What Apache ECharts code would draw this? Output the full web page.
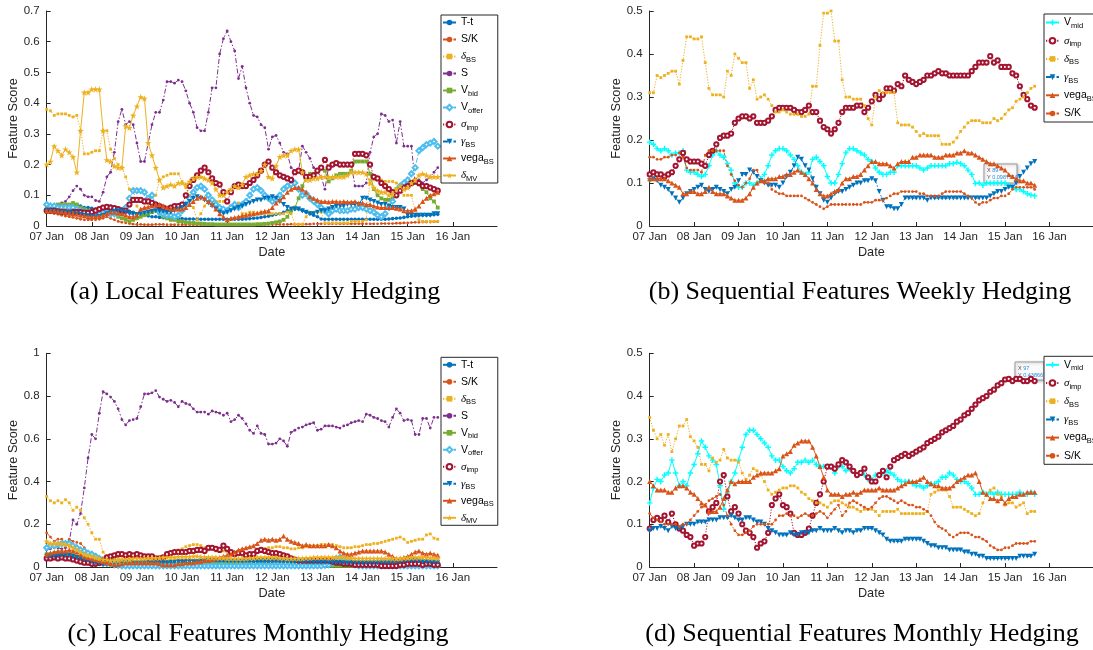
<!DOCTYPE html>
<html>
<head>
<meta charset="utf-8">
<script src="https://cdn.jsdelivr.net/npm/echarts@6/dist/echarts.min.js"></script>
<style>
  html, body { margin: 0; padding: 0; background: #fff; }
  #chart { width: 1093px; height: 650px; }
</style>
</head>
<body>
<div id="chart"></div>
<script>
// ---- axis labels ----
const dayLabels = ['07 Jan','08 Jan','09 Jan','10 Jan','11 Jan','12 Jan','13 Jan','14 Jan','15 Jan','16 Jan'];
const STEP_DAYS = 2 / 24;   // one score every two hours, starting 07 Jan 00:00

// ---- (a) local features, weekly hedging ----
const wkLoc_Tt = [0.05,0.05,0.052,0.055,0.057,0.06,0.063,0.066,0.07,
 0.065,0.06,0.06,0.058,0.055,0.052,0.05,0.055,
 0.065,0.062,0.058,0.055,0.05,0.048,0.045,0.04,
 0.038,0.035,0.033,0.03,0.03,0.028,0.027,0.026,
 0.025,0.025,0.024,0.024,0.023,0.023,0.023,0.022,
 0.022,0.022,0.022,0.022,0.022,0.022,0.022,0.022,
 0.022,0.022,0.022,0.022,0.023,0.024,0.025,0.026,
 0.028,0.03,0.032,0.035,0.038,0.04,0.045,0.05,
 0.052,0.055,0.055,0.05,0.045,0.04,0.035,0.03,
 0.023,0.022,0.022,0.022,0.022,0.022,0.022,0.022,
 0.022,0.022,0.022,0.022,0.022,0.022,0.022,0.022,
 0.022,0.022,0.023,0.024,0.025,0.026,0.028,0.03,
 0.032,0.033,0.034,0.035,0.035,0.036,0.037,0.038];
const wkLoc_SK = [0.045,0.043,0.04,0.038,0.035,0.032,0.03,0.028,0.025,
 0.022,0.02,0.02,0.02,0.02,0.022,0.025,0.03,
 0.025,0.02,0.015,0.012,0.01,0.008,0.006,0.005,
 0.005,0.004,0.004,0.004,0.005,0.005,0.005,0.004,
 0.004,0.004,0.004,0.004,0.004,0.004,0.004,0.004,
 0.004,0.004,0.005,0.005,0.005,0.005,0.004,0.004,
 0.004,0.004,0.004,0.004,0.004,0.004,0.004,0.004,
 0.005,0.005,0.005,0.005,0.005,0.005,0.005,0.005,
 0.006,0.006,0.006,0.006,0.006,0.006,0.007,0.007,
 0.007,0.007,0.007,0.007,0.007,0.007,0.007,0.007,
 0.007,0.007,0.007,0.007,0.007,0.007,0.007,0.007,
 0.008,0.008,0.008,0.008,0.009,0.009,0.01,0.01,
 0.011,0.012,0.012,0.013,0.013,0.013,0.014,0.014];
const wkLoc_dBS = [0.38,0.375,0.36,0.365,0.365,0.365,0.36,0.355,0.36,
 0.31,0.235,0.235,0.24,0.245,0.245,0.31,0.31,
 0.25,0.22,0.20,0.19,0.16,0.12,0.12,0.065,
 0.04,0.04,0.08,0.10,0.10,0.15,0.16,0.165,
 0.17,0.17,0.17,0.145,0.125,0.10,0.06,0.02,
 0.04,0.065,0.08,0.08,0.08,0.08,0.08,0.08,
 0.065,0.07,0.075,0.04,0.04,0.045,0.045,0.04,
 0.045,0.04,0.04,0.04,0.04,0.04,0.04,0.045,
 0.04,0.005,0.005,0.005,0.03,0.045,0.045,0.045,
 0.045,0.01,0.01,0.01,0.01,0.01,0.01,0.01,
 0.015,0.015,0.015,0.015,0.02,0.15,0.15,0.15,
 0.15,0.145,0.145,0.145,0.14,0.135,0.10,0.10,
 0.10,0.05,0.02,0.015,0.015,0.015,0.015,0.015];
const wkLoc_S = [0.06,0.06,0.065,0.07,0.075,0.08,0.095,0.115,0.13,
 0.12,0.10,0.095,0.095,0.083,0.08,0.11,0.16,
 0.175,0.24,0.34,0.38,0.33,0.34,0.33,0.27,
 0.21,0.21,0.27,0.33,0.37,0.37,0.41,0.47,
 0.47,0.465,0.475,0.47,0.44,0.40,0.37,0.32,
 0.31,0.31,0.37,0.45,0.45,0.56,0.61,0.635,
 0.60,0.57,0.48,0.52,0.45,0.40,0.36,0.355,
 0.33,0.32,0.25,0.29,0.295,0.27,0.24,0.235,
 0.19,0.18,0.18,0.26,0.24,0.22,0.19,0.175,
 0.16,0.12,0.195,0.20,0.20,0.20,0.20,0.20,
 0.20,0.13,0.13,0.13,0.14,0.24,0.29,0.30,
 0.365,0.36,0.34,0.345,0.27,0.34,0.26,0.26,
 0.26,0.14,0.15,0.14,0.15,0.16,0.175,0.19];
const wkLoc_Vbid = [0.065,0.065,0.065,0.07,0.07,0.07,0.07,0.075,0.07,
 0.06,0.055,0.05,0.045,0.045,0.05,0.055,0.055,
 0.05,0.04,0.03,0.025,0.02,0.015,0.02,0.025,
 0.03,0.035,0.04,0.045,0.05,0.04,0.03,0.025,
 0.02,0.02,0.015,0.015,0.012,0.01,0.01,0.008,
 0.008,0.007,0.006,0.006,0.005,0.005,0.005,0.005,
 0.005,0.005,0.005,0.005,0.005,0.005,0.005,0.006,
 0.006,0.007,0.008,0.01,0.012,0.015,0.02,0.03,
 0.05,0.06,0.09,0.13,0.16,0.17,0.17,0.175,
 0.19,0.18,0.145,0.155,0.165,0.17,0.17,0.17,
 0.18,0.21,0.21,0.21,0.21,0.17,0.12,0.10,
 0.09,0.085,0.085,0.09,0.12,0.13,0.14,0.14,
 0.135,0.14,0.135,0.12,0.11,0.09,0.08,0.06];
const wkLoc_Voffer = [0.07,0.065,0.065,0.06,0.06,0.06,0.06,0.06,0.055,
 0.05,0.045,0.04,0.04,0.04,0.04,0.045,0.045,0.04,0.04,0.04,0.045,
 0.06,0.09,0.115,0.115,0.115,0.11,0.09,
 0.10,0.07,0.045,0.04,0.035,0.035,0.03,0.035,
 0.05,0.07,0.09,0.11,0.125,0.13,0.12,0.10,0.085,0.07,0.06,0.055,
 0.05,0.06,0.07,0.06,0.07,0.08,0.10,0.12,0.125,0.115,0.10,0.09,
 0.08,0.085,0.10,0.12,0.13,0.135,0.14,0.12,0.10,0.105,0.09,0.08,
 0.07,0.06,0.05,0.04,0.05,0.055,0.05,0.05,0.05,0.055,0.055,0.06,
 0.06,0.055,0.05,0.045,0.035,0.03,0.04,0.06,0.08,0.11,0.13,0.14,
 0.15,0.17,0.19,0.245,0.255,0.265,0.27,0.275,0.26];
const wkLoc_sig = [0.05,0.05,0.05,0.048,0.046,0.045,0.044,0.045,0.046,0.045,0.044,0.043,
 0.045,0.05,0.055,0.06,0.062,0.06,0.058,0.055,0.05,0.05,
 0.07,0.085,0.085,0.085,0.08,0.08,0.075,0.07,0.065,0.06,
 0.055,0.06,0.065,0.065,0.07,0.10,0.13,0.15,0.165,0.18,
 0.19,0.175,0.155,0.14,0.135,0.11,0.08,0.11,0.13,0.135,
 0.13,0.13,0.14,0.15,0.165,0.18,0.20,0.21,0.19,0.175,
 0.165,0.16,0.155,0.15,0.175,0.18,0.175,0.16,0.16,0.165,
 0.18,0.19,0.215,0.19,0.20,0.205,0.20,0.20,0.20,0.20,
 0.235,0.235,0.235,0.23,0.20,0.16,0.155,0.14,0.13,0.12,
 0.11,0.10,0.115,0.125,0.13,0.14,0.145,0.14,0.13,0.13,
 0.125,0.12,0.115];
const wkLoc_gam = [0.05,0.048,0.047,0.045,0.044,0.043,0.042,0.04,0.04,
 0.038,0.035,0.033,0.03,0.03,0.032,0.035,0.04,
 0.045,0.048,0.05,0.048,0.045,0.04,0.038,0.037,
 0.04,0.042,0.045,0.047,0.05,0.048,0.046,0.045,0.045,0.05,0.055,
 0.06,0.07,0.08,0.09,0.095,0.09,0.085,0.075,0.065,0.055,0.045,0.04,
 0.045,0.05,0.055,0.06,0.065,0.07,0.075,0.08,0.085,0.085,0.09,0.09,
 0.095,0.09,0.08,0.07,0.06,0.055,0.055,0.055,0.05,0.045,0.04,0.04,
 0.045,0.05,0.05,0.055,0.06,0.065,0.065,0.065,0.07,0.07,0.07,0.07,
 0.09,0.09,0.085,0.08,0.075,0.07,0.07,0.065,0.06,0.06,0.06,0.055,
 0.035,0.035,0.035,0.035,0.035,0.035,0.035,0.04,0.04];
const wkLoc_vega = [0.05,0.05,0.05,0.048,0.046,0.045,0.042,0.04,0.038,
 0.035,0.033,0.03,0.03,0.03,0.032,0.035,0.04,
 0.045,0.045,0.042,0.04,0.035,0.03,0.03,0.035,
 0.055,0.06,0.062,0.065,0.07,0.07,0.065,0.06,0.055,0.055,0.055,0.055,
 0.06,0.07,0.08,0.09,0.095,0.09,0.08,0.07,0.055,0.04,0.03,0.02,
 0.025,0.028,0.03,0.033,0.035,0.038,0.04,0.042,0.045,0.048,0.05,0.06,
 0.075,0.085,0.095,0.11,0.12,0.125,0.125,0.12,0.11,0.095,0.09,0.085,
 0.08,0.08,0.078,0.08,0.08,0.078,0.08,0.078,0.078,0.08,0.075,0.075,
 0.07,0.07,0.065,0.062,0.06,0.06,0.06,0.06,0.058,0.055,0.05,0.05,
 0.05,0.055,0.065,0.08,0.09,0.10,0.105,0.11];
const wkLoc_dMV = [0.20,0.21,0.26,0.245,0.23,0.25,0.24,0.225,0.175,
 0.31,0.435,0.435,0.445,0.445,0.445,0.31,0.215,
 0.21,0.195,0.19,0.19,0.325,0.32,0.36,0.39,
 0.42,0.415,0.27,0.23,0.19,0.15,0.125,0.13,
 0.135,0.13,0.14,0.14,0.135,0.145,0.155,0.16,
 0.16,0.155,0.15,0.14,0.12,0.10,0.10,0.11,
 0.12,0.13,0.125,0.135,0.16,0.165,0.17,0.17,
 0.18,0.20,0.16,0.155,0.195,0.225,0.23,0.23,
 0.245,0.25,0.25,0.175,0.15,0.15,0.155,0.155,
 0.16,0.16,0.16,0.16,0.16,0.16,0.16,0.165,
 0.175,0.175,0.175,0.175,0.17,0.14,0.125,0.115,
 0.11,0.11,0.10,0.105,0.12,0.13,0.12,0.125,
 0.14,0.15,0.165,0.17,0.165,0.16,0.16,0.16];

// ---- (b) sequential features, weekly hedging ----
const wkSeq_Vmid = [0.195,0.19,0.18,0.175,0.18,0.175,0.165,0.17,0.17,0.175,
 0.13,0.125,0.125,0.12,0.115,0.12,0.14,0.165,0.175,0.165,
 0.16,0.145,0.13,0.10,0.09,0.09,0.10,0.10,0.095,0.10,
 0.11,0.12,0.14,0.165,0.175,0.18,0.18,0.175,0.165,0.155,
 0.14,0.125,0.12,0.125,0.155,0.16,0.15,0.14,0.115,0.10,
 0.10,0.12,0.145,0.17,0.18,0.18,0.175,0.17,0.165,0.155,
 0.15,0.135,0.125,0.12,0.12,0.125,0.125,0.14,0.14,0.14,
 0.14,0.14,0.14,0.135,0.13,0.135,0.14,0.14,0.14,0.14,
 0.14,0.145,0.145,0.148,0.145,0.14,0.13,0.12,0.0987919,0.10,
 0.095,0.10,0.10,0.10,0.10,0.10,0.10,0.095,0.09,0.085,
 0.085,0.08,0.075,0.072,0.07];
const wkSeq_sig = [0.12,0.125,0.12,0.12,0.115,0.12,0.125,0.14,0.155,0.17,
 0.155,0.15,0.15,0.15,0.145,0.14,0.165,0.175,0.19,0.205,
 0.21,0.21,0.215,0.24,0.25,0.255,0.255,0.25,0.255,0.24,
 0.24,0.24,0.245,0.255,0.27,0.275,0.275,0.275,0.275,0.27,
 0.265,0.265,0.27,0.28,0.265,0.265,0.245,0.23,0.225,0.215,
 0.225,0.24,0.265,0.275,0.275,0.275,0.28,0.28,0.265,0.275,
 0.29,0.305,0.295,0.305,0.32,0.32,0.315,0.33,0.325,0.35,
 0.34,0.335,0.33,0.335,0.34,0.35,0.35,0.355,0.36,0.355,
 0.355,0.35,0.35,0.35,0.35,0.35,0.35,0.36,0.37,0.38,
 0.38,0.38,0.395,0.38,0.385,0.37,0.37,0.37,0.355,0.35,
 0.325,0.305,0.295,0.28,0.275];
const wkSeq_dBS = [0.31,0.31,0.35,0.345,0.35,0.355,0.36,0.36,0.33,0.385,
 0.44,0.44,0.435,0.435,0.44,0.38,0.32,0.305,0.305,0.305,
 0.30,0.36,0.35,0.40,0.39,0.38,0.38,0.32,0.34,0.295,
 0.30,0.305,0.295,0.28,0.265,0.265,0.27,0.265,0.26,0.26,
 0.26,0.255,0.255,0.26,0.325,0.325,0.42,0.495,0.495,0.50,
 0.43,0.43,0.34,0.30,0.30,0.295,0.295,0.295,0.28,0.25,
 0.235,0.30,0.315,0.31,0.31,0.31,0.31,0.24,0.235,0.235,
 0.235,0.23,0.22,0.21,0.215,0.21,0.21,0.21,0.21,0.19,
 0.19,0.19,0.195,0.205,0.22,0.23,0.24,0.245,0.245,0.245,
 0.24,0.24,0.24,0.25,0.245,0.25,0.26,0.27,0.275,0.29,
 0.295,0.30,0.31,0.32,0.325];
const wkSeq_gam = [0.105,0.11,0.105,0.095,0.09,0.085,0.075,0.065,0.055,0.065,
 0.075,0.08,0.085,0.09,0.095,0.085,0.08,0.085,0.09,0.085,
 0.08,0.075,0.085,0.09,0.105,0.12,0.12,0.13,0.125,0.115,
 0.105,0.10,0.095,0.095,0.095,0.09,0.10,0.115,0.125,0.14,
 0.16,0.155,0.14,0.13,0.11,0.09,0.075,0.06,0.055,0.065,
 0.075,0.08,0.08,0.085,0.09,0.095,0.10,0.10,0.105,0.105,
 0.11,0.105,0.08,0.06,0.045,0.045,0.04,0.04,0.05,0.065,
 0.065,0.065,0.065,0.065,0.065,0.06,0.065,0.065,0.065,0.065,
 0.065,0.065,0.065,0.065,0.065,0.065,0.065,0.065,0.065,0.065,
 0.065,0.065,0.07,0.075,0.08,0.08,0.085,0.09,0.09,0.10,
 0.115,0.125,0.135,0.145,0.15];
const wkSeq_vega = [0.11,0.11,0.11,0.11,0.11,0.105,0.10,0.095,0.09,0.075,
 0.075,0.08,0.08,0.075,0.075,0.08,0.09,0.08,0.075,0.075,
 0.075,0.07,0.065,0.06,0.06,0.06,0.065,0.075,0.09,0.10,
 0.105,0.105,0.11,0.11,0.11,0.115,0.115,0.12,0.12,0.125,
 0.13,0.125,0.12,0.11,0.10,0.085,0.075,0.07,0.07,0.075,
 0.08,0.085,0.10,0.11,0.11,0.115,0.115,0.12,0.13,0.14,
 0.15,0.15,0.145,0.145,0.145,0.14,0.135,0.145,0.15,0.15,
 0.15,0.16,0.16,0.165,0.165,0.165,0.165,0.16,0.16,0.16,
 0.165,0.165,0.165,0.17,0.17,0.175,0.17,0.17,0.165,0.16,
 0.155,0.15,0.145,0.145,0.14,0.135,0.13,0.12,0.115,0.11,
 0.105,0.105,0.10,0.10,0.095];
const wkSeq_SK = [0.16,0.16,0.155,0.155,0.16,0.16,0.165,0.165,0.17,0.16,
 0.135,0.13,0.13,0.13,0.125,0.165,0.175,0.175,0.175,0.175,
 0.175,0.14,0.12,0.105,0.095,0.09,0.10,0.11,0.13,0.13,
 0.105,0.10,0.10,0.085,0.08,0.075,0.075,0.07,0.07,0.07,
 0.07,0.07,0.065,0.06,0.055,0.05,0.045,0.04,0.045,0.05,
 0.05,0.05,0.05,0.05,0.05,0.05,0.05,0.05,0.055,0.055,
 0.055,0.06,0.06,0.06,0.065,0.07,0.075,0.075,0.08,0.08,
 0.08,0.08,0.08,0.075,0.075,0.07,0.07,0.07,0.07,0.075,
 0.08,0.08,0.08,0.08,0.08,0.075,0.07,0.065,0.055,0.05,
 0.055,0.055,0.06,0.065,0.065,0.07,0.07,0.075,0.085,0.09,
 0.09,0.09,0.09,0.09,0.085];

// ---- (c) local features, monthly hedging ----
const moLoc_Tt = [0.05,0.05,0.05,0.05,0.05,0.05,0.048,0.045,0.04,
 0.035,0.03,0.025,0.02,0.015,0.012,0.01,0.01,
 0.01,0.012,0.015,0.015,0.018,0.02,0.02,0.02,
 0.02,0.018,0.015,0.015,0.015,0.015,0.015,0.015,
 0.015,0.015,0.018,0.02,0.02,0.02,0.02,0.02,
 0.02,0.02,0.022,0.022,0.022,0.025,0.025,0.025,
 0.025,0.025,0.025,0.025,0.025,0.025,0.025,0.025,
 0.025,0.025,0.025,0.025,0.025,0.025,0.025,0.025,
 0.025,0.025,0.022,0.022,0.02,0.02,0.02,0.02,
 0.02,0.02,0.02,0.02,0.02,0.02,0.02,0.02,
 0.02,0.02,0.02,0.02,0.02,0.02,0.02,0.02,
 0.02,0.02,0.02,0.02,0.02,0.02,0.022,0.022,
 0.022,0.022,0.022,0.022,0.022,0.022,0.022,0.022];
const moLoc_SK = [0.16,0.14,0.12,0.13,0.13,0.11,0.13,0.12,0.115,0.11,
 0.09,0.07,0.06,0.05,0.04,0.03,0.025,0.02,0.02,0.02,
 0.02,0.02,0.02,0.02,0.02,0.022,0.025,0.025,0.025,0.025,
 0.025,0.025,0.025,0.028,0.03,0.03,0.03,0.032,0.032,0.03,
 0.03,0.03,0.028,0.028,0.03,0.032,0.035,0.035,0.035,0.032,
 0.03,0.03,0.03,0.032,0.035,0.035,0.035,0.035,0.032,0.03,
 0.03,0.03,0.028,0.028,0.03,0.03,0.03,0.032,0.032,0.032,
 0.03,0.03,0.03,0.03,0.028,0.028,0.028,0.03,0.03,0.03,
 0.03,0.03,0.028,0.028,0.028,0.025,0.025,0.025,0.025,0.025,
 0.025,0.025,0.025,0.025,0.028,0.028,0.03,0.03,0.03,0.03,
 0.03,0.03,0.03,0.03,0.03];
const moLoc_dBS = [0.33,0.31,0.30,0.31,0.30,0.315,0.30,0.265,0.28,
 0.265,0.23,0.20,0.16,0.13,0.13,0.07,0.05,
 0.05,0.045,0.04,0.035,0.035,0.04,0.045,0.045,
 0.04,0.045,0.045,0.04,0.04,0.045,0.05,0.065,
 0.07,0.07,0.08,0.085,0.095,0.10,0.105,0.105,
 0.10,0.09,0.08,0.085,0.075,0.08,0.075,0.07,
 0.065,0.06,0.065,0.055,0.05,0.06,0.06,0.07,
 0.08,0.085,0.09,0.09,0.095,0.095,0.09,0.09,
 0.085,0.085,0.09,0.09,0.095,0.10,0.10,0.10,
 0.105,0.105,0.105,0.105,0.10,0.095,0.09,0.09,
 0.09,0.095,0.095,0.10,0.105,0.105,0.11,0.11,
 0.115,0.12,0.125,0.13,0.135,0.14,0.13,0.115,
 0.12,0.125,0.13,0.13,0.15,0.155,0.135,0.13];
const moLoc_S = [0.08,0.085,0.09,0.09,0.085,0.09,0.12,0.22,0.20,
 0.25,0.37,0.51,0.62,0.60,0.72,0.82,0.81,
 0.795,0.775,0.74,0.69,0.665,0.685,0.69,0.695,
 0.75,0.81,0.81,0.815,0.825,0.795,0.785,0.775,
 0.78,0.77,0.75,0.775,0.765,0.76,0.74,0.725,
 0.725,0.725,0.715,0.73,0.725,0.72,0.71,0.72,
 0.68,0.69,0.71,0.695,0.67,0.64,0.625,0.66,
 0.625,0.62,0.575,0.575,0.58,0.60,0.59,0.565,
 0.63,0.64,0.65,0.655,0.665,0.67,0.675,0.64,
 0.645,0.66,0.66,0.66,0.655,0.65,0.66,0.665,
 0.675,0.68,0.685,0.68,0.715,0.71,0.70,0.695,
 0.685,0.68,0.655,0.70,0.74,0.72,0.685,0.69,
 0.685,0.62,0.62,0.695,0.695,0.65,0.70,0.70];
const moLoc_Vbid = [0.06,0.06,0.065,0.065,0.065,0.06,0.06,0.055,0.05,0.045,
 0.04,0.035,0.03,0.03,0.035,0.04,0.04,0.035,0.03,0.025,
 0.02,0.02,0.02,0.018,0.015,0.015,0.012,0.012,0.01,0.01,
 0.01,0.01,0.01,0.01,0.01,0.012,0.012,0.012,0.012,0.015,
 0.015,0.015,0.015,0.015,0.015,0.015,0.015,0.015,0.015,0.015,
 0.015,0.015,0.012,0.012,0.012,0.01,0.01,0.01,0.01,0.01,
 0.01,0.008,0.008,0.008,0.008,0.008,0.006,0.006,0.006,0.006,
 0.006,0.006,0.006,0.006,0.006,0.005,0.005,0.005,0.005,0.005,
 0.005,0.005,0.005,0.005,0.005,0.005,0.006,0.006,0.006,0.006,
 0.007,0.008,0.008,0.008,0.008,0.008,0.008,0.008,0.008,0.008,
 0.008,0.008,0.008,0.008,0.008];
const moLoc_Voffer = [0.09,0.10,0.10,0.105,0.11,0.11,0.11,0.10,0.09,0.08,
 0.075,0.065,0.06,0.05,0.04,0.03,0.02,0.015,0.01,0.008,
 0.006,0.005,0.005,0.005,0.005,0.005,0.005,0.005,0.005,0.005,
 0.005,0.005,0.005,0.005,0.005,0.005,0.005,0.005,0.005,0.005,
 0.005,0.005,0.005,0.005,0.005,0.005,0.005,0.005,0.005,0.005,
 0.005,0.005,0.005,0.005,0.005,0.005,0.005,0.005,0.005,0.005,
 0.005,0.005,0.005,0.005,0.005,0.005,0.005,0.005,0.005,0.005,
 0.005,0.005,0.005,0.005,0.008,0.01,0.02,0.04,0.045,0.04,
 0.03,0.02,0.01,0.005,0.005,0.005,0.005,0.005,0.005,0.005,
 0.005,0.005,0.005,0.005,0.005,0.005,0.005,0.005,0.005,0.005,
 0.005,0.005,0.005,0.005,0.005];
const moLoc_sig = [0.04,0.04,0.045,0.04,0.045,0.04,0.04,0.035,0.03,0.025,
 0.02,0.02,0.015,0.015,0.02,0.03,0.045,0.05,0.055,0.06,
 0.06,0.055,0.06,0.055,0.06,0.055,0.05,0.05,0.05,0.04,
 0.04,0.045,0.06,0.065,0.07,0.07,0.07,0.07,0.075,0.075,
 0.08,0.08,0.075,0.09,0.09,0.085,0.08,0.10,0.085,0.07,
 0.06,0.065,0.065,0.055,0.06,0.06,0.075,0.08,0.075,0.07,
 0.065,0.065,0.06,0.055,0.05,0.04,0.035,0.03,0.03,0.03,
 0.03,0.03,0.03,0.03,0.03,0.03,0.025,0.02,0.02,0.015,
 0.015,0.015,0.01,0.01,0.01,0.01,0.01,0.01,0.01,0.005,
 0.005,0.005,0.005,0.005,0.01,0.01,0.015,0.015,0.015,0.015,
 0.01,0.015,0.015,0.01,0.01];
const moLoc_gam = [0.05,0.05,0.05,0.052,0.055,0.055,0.055,0.05,0.045,0.04,
 0.035,0.03,0.025,0.02,0.018,0.015,0.015,0.015,0.015,0.018,
 0.02,0.02,0.02,0.02,0.02,0.02,0.022,0.022,0.02,0.02,
 0.02,0.02,0.02,0.022,0.022,0.025,0.025,0.025,0.025,0.025,
 0.025,0.028,0.028,0.03,0.03,0.03,0.03,0.03,0.028,0.028,
 0.028,0.028,0.028,0.03,0.03,0.03,0.03,0.03,0.03,0.03,
 0.03,0.03,0.028,0.028,0.028,0.025,0.025,0.025,0.025,0.025,
 0.025,0.022,0.022,0.022,0.022,0.02,0.02,0.02,0.02,0.02,
 0.02,0.02,0.02,0.02,0.02,0.02,0.02,0.02,0.02,0.022,
 0.022,0.022,0.025,0.025,0.025,0.028,0.03,0.03,0.03,0.028,
 0.025,0.025,0.022,0.022,0.022];
const moLoc_vega = [0.06,0.065,0.07,0.075,0.075,0.075,0.08,0.075,0.07,0.06,
 0.05,0.045,0.04,0.035,0.03,0.025,0.02,0.015,0.012,0.012,
 0.015,0.02,0.02,0.02,0.02,0.02,0.02,0.02,0.02,0.02,
 0.015,0.01,0.01,0.01,0.01,0.015,0.015,0.02,0.02,0.02,
 0.025,0.025,0.03,0.03,0.035,0.04,0.045,0.05,0.055,0.06,
 0.07,0.08,0.085,0.09,0.095,0.10,0.11,0.125,0.13,0.125,
 0.13,0.125,0.13,0.145,0.13,0.12,0.115,0.11,0.10,0.105,
 0.10,0.10,0.10,0.10,0.10,0.105,0.10,0.09,0.075,0.065,
 0.06,0.06,0.065,0.07,0.075,0.075,0.075,0.075,0.075,0.075,
 0.07,0.06,0.05,0.04,0.04,0.045,0.05,0.06,0.07,0.075,
 0.065,0.06,0.065,0.06,0.055];
const moLoc_dMV = [0.12,0.11,0.11,0.11,0.11,0.105,0.10,0.09,0.08,0.07,
 0.06,0.055,0.05,0.045,0.04,0.035,0.035,0.03,0.03,0.03,
 0.035,0.035,0.035,0.04,0.04,0.04,0.04,0.042,0.042,0.042,
 0.042,0.045,0.045,0.045,0.045,0.048,0.048,0.048,0.048,0.05,
 0.05,0.048,0.048,0.045,0.045,0.045,0.042,0.042,0.04,0.04,
 0.04,0.04,0.04,0.04,0.042,0.042,0.045,0.045,0.045,0.045,
 0.045,0.045,0.042,0.042,0.04,0.04,0.04,0.04,0.04,0.042,
 0.042,0.045,0.045,0.045,0.045,0.045,0.045,0.045,0.045,0.045,
 0.042,0.042,0.04,0.04,0.04,0.04,0.04,0.04,0.04,0.04,
 0.04,0.04,0.04,0.04,0.04,0.042,0.042,0.045,0.045,0.045,
 0.045,0.045,0.042,0.042,0.04];

// ---- (d) sequential features, monthly hedging ----
const moSeq_Vmid = [0.15,0.185,0.205,0.20,0.215,0.22,0.25,0.22,0.19,0.20,
 0.19,0.22,0.24,0.265,0.295,0.28,0.26,0.25,0.24,0.19,
 0.135,0.17,0.20,0.22,0.25,0.28,0.31,0.32,0.32,0.31,
 0.30,0.29,0.28,0.26,0.25,0.25,0.235,0.225,0.22,0.23,
 0.245,0.245,0.25,0.245,0.25,0.24,0.235,0.235,0.235,0.235,
 0.22,0.235,0.235,0.225,0.23,0.225,0.215,0.22,0.215,0.205,
 0.205,0.215,0.215,0.22,0.225,0.22,0.215,0.205,0.20,0.20,
 0.20,0.195,0.19,0.19,0.185,0.19,0.195,0.195,0.20,0.21,
 0.21,0.22,0.215,0.205,0.20,0.20,0.195,0.185,0.17,0.17,
 0.175,0.17,0.175,0.17,0.175,0.17,0.17,0.17,0.17,0.17,
 0.175,0.17,0.17,0.175,0.17];
const moSeq_sig = [0.09,0.11,0.115,0.11,0.12,0.105,0.125,0.10,0.09,0.085,
 0.075,0.07,0.05,0.055,0.055,0.07,0.13,0.14,0.15,0.20,
 0.215,0.165,0.13,0.14,0.125,0.10,0.085,0.08,0.07,0.045,
 0.055,0.06,0.08,0.145,0.16,0.17,0.145,0.14,0.125,0.08,
 0.075,0.075,0.08,0.09,0.12,0.15,0.17,0.20,0.235,0.235,
 0.23,0.24,0.25,0.245,0.235,0.225,0.215,0.22,0.23,0.21,
 0.20,0.20,0.215,0.225,0.21,0.235,0.25,0.255,0.26,0.265,
 0.26,0.265,0.27,0.275,0.28,0.29,0.295,0.30,0.305,0.315,
 0.32,0.325,0.33,0.34,0.345,0.355,0.36,0.37,0.38,0.39,
 0.395,0.40,0.41,0.415,0.425,0.43,0.438667,0.44,0.435,0.44,
 0.44,0.435,0.435,0.44,0.435];
const moSeq_dBS = [0.35,0.32,0.30,0.31,0.285,0.31,0.27,0.30,0.33,0.33,
 0.345,0.305,0.295,0.28,0.24,0.24,0.225,0.255,0.245,0.25,
 0.275,0.255,0.25,0.25,0.245,0.22,0.205,0.215,0.23,0.225,
 0.215,0.20,0.18,0.17,0.175,0.18,0.185,0.185,0.19,0.19,
 0.185,0.175,0.17,0.16,0.155,0.15,0.15,0.145,0.14,0.15,
 0.155,0.155,0.15,0.145,0.14,0.14,0.135,0.13,0.135,0.135,
 0.135,0.13,0.12,0.13,0.13,0.13,0.13,0.135,0.125,0.125,
 0.125,0.125,0.125,0.125,0.125,0.13,0.17,0.175,0.18,0.18,
 0.18,0.165,0.14,0.14,0.14,0.135,0.13,0.125,0.12,0.125,
 0.15,0.17,0.18,0.185,0.17,0.165,0.145,0.15,0.15,0.14,
 0.145,0.15,0.125,0.13,0.13];
const moSeq_gam = [0.085,0.09,0.09,0.095,0.09,0.085,0.095,0.09,0.09,0.095,
 0.10,0.10,0.10,0.105,0.105,0.105,0.11,0.11,0.11,0.115,
 0.115,0.115,0.12,0.115,0.11,0.11,0.115,0.115,0.11,0.105,
 0.105,0.10,0.09,0.085,0.08,0.075,0.075,0.075,0.08,0.075,
 0.075,0.08,0.08,0.08,0.085,0.085,0.09,0.085,0.085,0.085,
 0.09,0.085,0.08,0.085,0.085,0.08,0.085,0.085,0.09,0.09,
 0.09,0.085,0.08,0.075,0.065,0.06,0.06,0.06,0.06,0.065,
 0.065,0.065,0.065,0.065,0.06,0.055,0.05,0.05,0.045,0.045,
 0.045,0.04,0.04,0.04,0.04,0.035,0.035,0.03,0.03,0.025,
 0.025,0.02,0.02,0.02,0.02,0.02,0.02,0.02,0.02,0.02,
 0.025,0.025,0.025,0.025,0.03];
const moSeq_vega = [0.20,0.19,0.18,0.18,0.18,0.175,0.175,0.185,0.19,0.19,
 0.185,0.175,0.17,0.16,0.15,0.145,0.13,0.13,0.13,0.14,
 0.16,0.18,0.20,0.195,0.20,0.20,0.20,0.20,0.21,0.215,
 0.22,0.22,0.22,0.22,0.225,0.23,0.26,0.265,0.27,0.285,
 0.29,0.295,0.295,0.295,0.28,0.26,0.235,0.21,0.18,0.17,
 0.17,0.17,0.165,0.17,0.17,0.175,0.17,0.175,0.18,0.18,
 0.18,0.18,0.185,0.18,0.18,0.18,0.18,0.185,0.19,0.195,
 0.20,0.20,0.20,0.205,0.21,0.20,0.195,0.19,0.19,0.185,
 0.185,0.185,0.19,0.20,0.205,0.21,0.215,0.215,0.22,0.20,
 0.175,0.17,0.16,0.16,0.155,0.16,0.15,0.16,0.165,0.165,
 0.17,0.17,0.175,0.175,0.175];
const moSeq_SK = [0.125,0.115,0.11,0.105,0.10,0.10,0.10,0.10,0.095,0.10,
 0.10,0.11,0.12,0.13,0.14,0.145,0.155,0.16,0.165,0.17,
 0.145,0.12,0.10,0.085,0.075,0.075,0.08,0.085,0.095,0.10,
 0.10,0.10,0.10,0.10,0.11,0.12,0.12,0.125,0.12,0.12,
 0.115,0.12,0.125,0.12,0.12,0.125,0.13,0.125,0.115,0.125,
 0.135,0.145,0.12,0.13,0.15,0.155,0.15,0.145,0.14,0.135,
 0.14,0.15,0.16,0.165,0.165,0.16,0.155,0.15,0.155,0.15,
 0.145,0.145,0.14,0.14,0.135,0.13,0.12,0.105,0.095,0.09,
 0.085,0.075,0.07,0.075,0.08,0.08,0.08,0.075,0.07,0.07,
 0.065,0.06,0.05,0.045,0.04,0.04,0.045,0.045,0.05,0.055,
 0.055,0.055,0.055,0.06,0.06];

// ---- legend order per panel ----
const localNames = ['T-t','S/K','δ_BS','S','V_bid','V_offer','σ_imp','γ_BS','vega_BS','δ_MV'];
const seqNames = ['V_mid','σ_imp','δ_BS','γ_BS','vega_BS','S/K'];

const panelData = [
  [wkLoc_Tt, wkLoc_SK, wkLoc_dBS, wkLoc_S, wkLoc_Vbid, wkLoc_Voffer, wkLoc_sig, wkLoc_gam, wkLoc_vega, wkLoc_dMV],
  [wkSeq_Vmid, wkSeq_sig, wkSeq_dBS, wkSeq_gam, wkSeq_vega, wkSeq_SK],
  [moLoc_Tt, moLoc_SK, moLoc_dBS, moLoc_S, moLoc_Vbid, moLoc_Voffer, moLoc_sig, moLoc_gam, moLoc_vega, moLoc_dMV],
  [moSeq_Vmid, moSeq_sig, moSeq_dBS, moSeq_gam, moSeq_vega, moSeq_SK]
];
const panelNames = [localNames, seqNames, localNames, seqNames];
const captions = ['(a) Local Features Weekly Hedging', '(b) Sequential Features Weekly Hedging',
                  '(c) Local Features Monthly Hedging', '(d) Sequential Features Monthly Hedging'];

// ---- styling ----
const DASHDOT = [5, 2, 1.5, 2];
const DOTTED = [1.2, 1.6];
const STAR = 'path://M0,-10L2.35,-3.24L9.51,-3.09L3.8,1.24L5.88,8.09L0,4L-5.88,8.09L-3.8,1.24L-9.51,-3.09L-2.35,-3.24Z';
const PLUS = 'path://M-1.3,-5H1.3V-1.3H5V1.3H1.3V5H-1.3V1.3H-5V-1.3H-1.3Z';
const STYLES = {
  'T-t':     { color: '#0072BD', dash: 'solid', symbol: 'circle', size: 3.6 },
  'S/K':     { color: '#D95319', dash: DASHDOT, symbol: 'circle', size: 2.8 },
  'δ_BS':    { color: '#EDB120', dash: DOTTED,  symbol: 'rect', size: 2.8 },
  'S':       { color: '#7E2F8E', dash: DASHDOT, symbol: 'circle', size: 2.8 },
  'V_bid':   { color: '#77AC30', dash: 'solid', symbol: 'rect', size: 3.8 },
  'V_offer': { color: '#4DBEEE', dash: DASHDOT, symbol: 'emptyDiamond', size: 5 },
  'σ_imp':   { color: '#A2142F', dash: DOTTED,  symbol: 'emptyCircle', size: 4.2 },
  'γ_BS':    { color: '#0072BD', dash: DASHDOT, symbol: 'triangle', size: 5, rotate: 180 },
  'vega_BS': { color: '#D95319', dash: 'solid', symbol: 'triangle', size: 5 },
  'δ_MV':    { color: '#EDB120', dash: 'solid', symbol: STAR, size: 6.5 },
  'V_mid':   { color: '#00FFFF', dash: 'solid', symbol: PLUS, size: 5.5 }
};

const AX = '#262626';
const SANS = 'Liberation Sans, Arial, Helvetica, sans-serif';
const SERIF = 'Liberation Serif, Times New Roman, serif';

// panel frames: [left, top, width, height]
const frames = [
  [46.7, 11, 450.3, 215],
  [649.7, 11, 450.3, 215],
  [46.7, 353.3, 450.3, 213.7],
  [649.7, 353.3, 450.3, 213.7]
];
const yMax = [0.7, 0.5, 1, 0.5];
const yStep = [0.1, 0.1, 0.2, 0.1];
const X_MAX = 9.98;
const dayTicks = dayLabels.map((_, i) => i);

function legendLabel(name) {
  const parts = name.split('_');
  const base = parts[0], sub = parts[1];
  const greek = /[\u03b1-\u03c9]/.test(base);
  return '{' + (greek ? 'g' : 'm') + '|' + base + '}' + (sub ? '{s|' + sub + '}' : '');
}

const grid = [], xAxis = [], yAxis = [], series = [], legend = [];
frames.forEach((f, k) => {
  grid.push({ left: f[0], top: f[1], width: f[2], height: f[3], containLabel: false });
  xAxis.push({
    type: 'value', gridIndex: k, min: 0, max: X_MAX,
    axisLine: { show: true, onZero: false, lineStyle: { color: AX, width: 1 } },
    axisTick: { show: true, inside: true, length: 4, customValues: dayTicks, lineStyle: { color: AX } },
    axisLabel: { customValues: dayTicks, formatter: v => dayLabels[Math.round(v)], color: AX,
                 fontFamily: SANS, fontSize: 11.5, margin: 5 },
    splitLine: { show: false },
    name: 'Date', nameLocation: 'middle', nameGap: 20,
    nameTextStyle: { color: AX, fontFamily: SANS, fontSize: 12.7 }
  });
  yAxis.push({
    type: 'value', gridIndex: k, min: 0, max: yMax[k], interval: yStep[k],
    axisLine: { show: true, lineStyle: { color: AX, width: 1 } },
    axisTick: { show: true, inside: true, length: 4, lineStyle: { color: AX } },
    axisLabel: { formatter: v => v === 0 ? '0' : String(Math.round(v * 10) / 10), color: AX,
                 fontFamily: SANS, fontSize: 11.5, margin: 7 },
    splitLine: { show: false },
    name: 'Feature Score', nameLocation: 'middle', nameGap: 26, nameRotate: 90,
    nameTextStyle: { color: AX, fontFamily: SANS, fontSize: 12.7 }
  });

  panelNames[k].forEach((name, j) => {
    const st = STYLES[name];
    const empty = st.symbol.indexOf('empty') === 0;
    series.push({
      type: 'line', name, xAxisIndex: k, yAxisIndex: k,
      data: panelData[k][j].map((v, i) => [i * STEP_DAYS, v]),
      symbol: st.symbol, symbolSize: st.size, symbolRotate: st.rotate || 0,
      showSymbol: true, showAllSymbol: true, clip: false,
      lineStyle: { color: st.color, width: 1, type: st.dash },
      itemStyle: { color: st.color, borderColor: st.color, borderWidth: empty ? 1.1 : 0 },
      emphasis: { disabled: true }, silent: true
    });
  });

  const seq = panelNames[k].length < 10;
  legend.push({
    data: panelNames[k], orient: 'vertical',
    left: seq ? 1044 : 441, top: f[1] + (seq ? 3 : 4),
    itemWidth: 13, itemHeight: 7, itemGap: seq ? 3.2 : 2,
    padding: seq ? [1, 4, 1, 1] : [0, 4, 0, 1],
    backgroundColor: '#fff', borderColor: AX, borderWidth: 1, borderRadius: 0,
    selectedMode: false, inactiveColor: '#000',
    formatter: legendLabel,
    textStyle: {
      color: '#000', fontFamily: SANS, fontSize: 10.5, lineHeight: 15,
      rich: {
        m: { fontFamily: SANS, fontSize: 10.5, lineHeight: 15, color: '#000' },
        g: { fontFamily: SERIF, fontStyle: 'italic', fontSize: 11, lineHeight: 15, color: '#000' },
        s: { fontFamily: SANS, fontSize: 7.5, lineHeight: 7, verticalAlign: 'bottom', color: '#000' }
      }
    }
  });
});

// captions under each panel and the two data tips
const graphic = [
  { type: 'text', x: 255, y: 292, style: { text: captions[0], font: '26px ' + SERIF, fill: '#000', align: 'center', verticalAlign: 'middle' } },
  { type: 'text', x: 860, y: 292, style: { text: captions[1], font: '26px ' + SERIF, fill: '#000', align: 'center', verticalAlign: 'middle' } },
  { type: 'text', x: 258, y: 634, style: { text: captions[2], font: '26px ' + SERIF, fill: '#000', align: 'center', verticalAlign: 'middle' } },
  { type: 'text', x: 862, y: 634, style: { text: captions[3], font: '26px ' + SERIF, fill: '#000', align: 'center', verticalAlign: 'middle' } }
];
function dataTip(x, y, w, h, xi, yv) {
  return {
    type: 'group', x, y, z: 100,
    children: [
      { type: 'rect', shape: { x: 0, y: 0, width: w, height: h },
        style: { fill: '#fbfbfb', stroke: '#9a9a9a', lineWidth: 1, shadowBlur: 3, shadowColor: 'rgba(0,0,0,0.25)', shadowOffsetX: 1, shadowOffsetY: 1 } },
      { type: 'text', x: 3, y: 3, style: {
          text: '{k|X }{v|' + xi + '}\n{k|Y }{v|' + yv + '}',
          rich: { k: { fontSize: 5.5, fontFamily: SANS, fill: '#444', lineHeight: 7 },
                  v: { fontSize: 5.5, fontFamily: SANS, fill: '#1f8fe6', lineHeight: 7 } } } }
    ]
  };
}
graphic.push(dataTip(984, 164, 33, 19, 89, '0.0987919'));
graphic.push(dataTip(1015, 362, 29, 18, 97, '0.438667'));

const chart = echarts.init(document.getElementById('chart'), null, { renderer: 'canvas' });
chart.setOption({
  animation: false,
  backgroundColor: '#fff',
  grid, xAxis, yAxis, series, legend, graphic,
  tooltip: { show: false }
});
</script>
</body>
</html>
